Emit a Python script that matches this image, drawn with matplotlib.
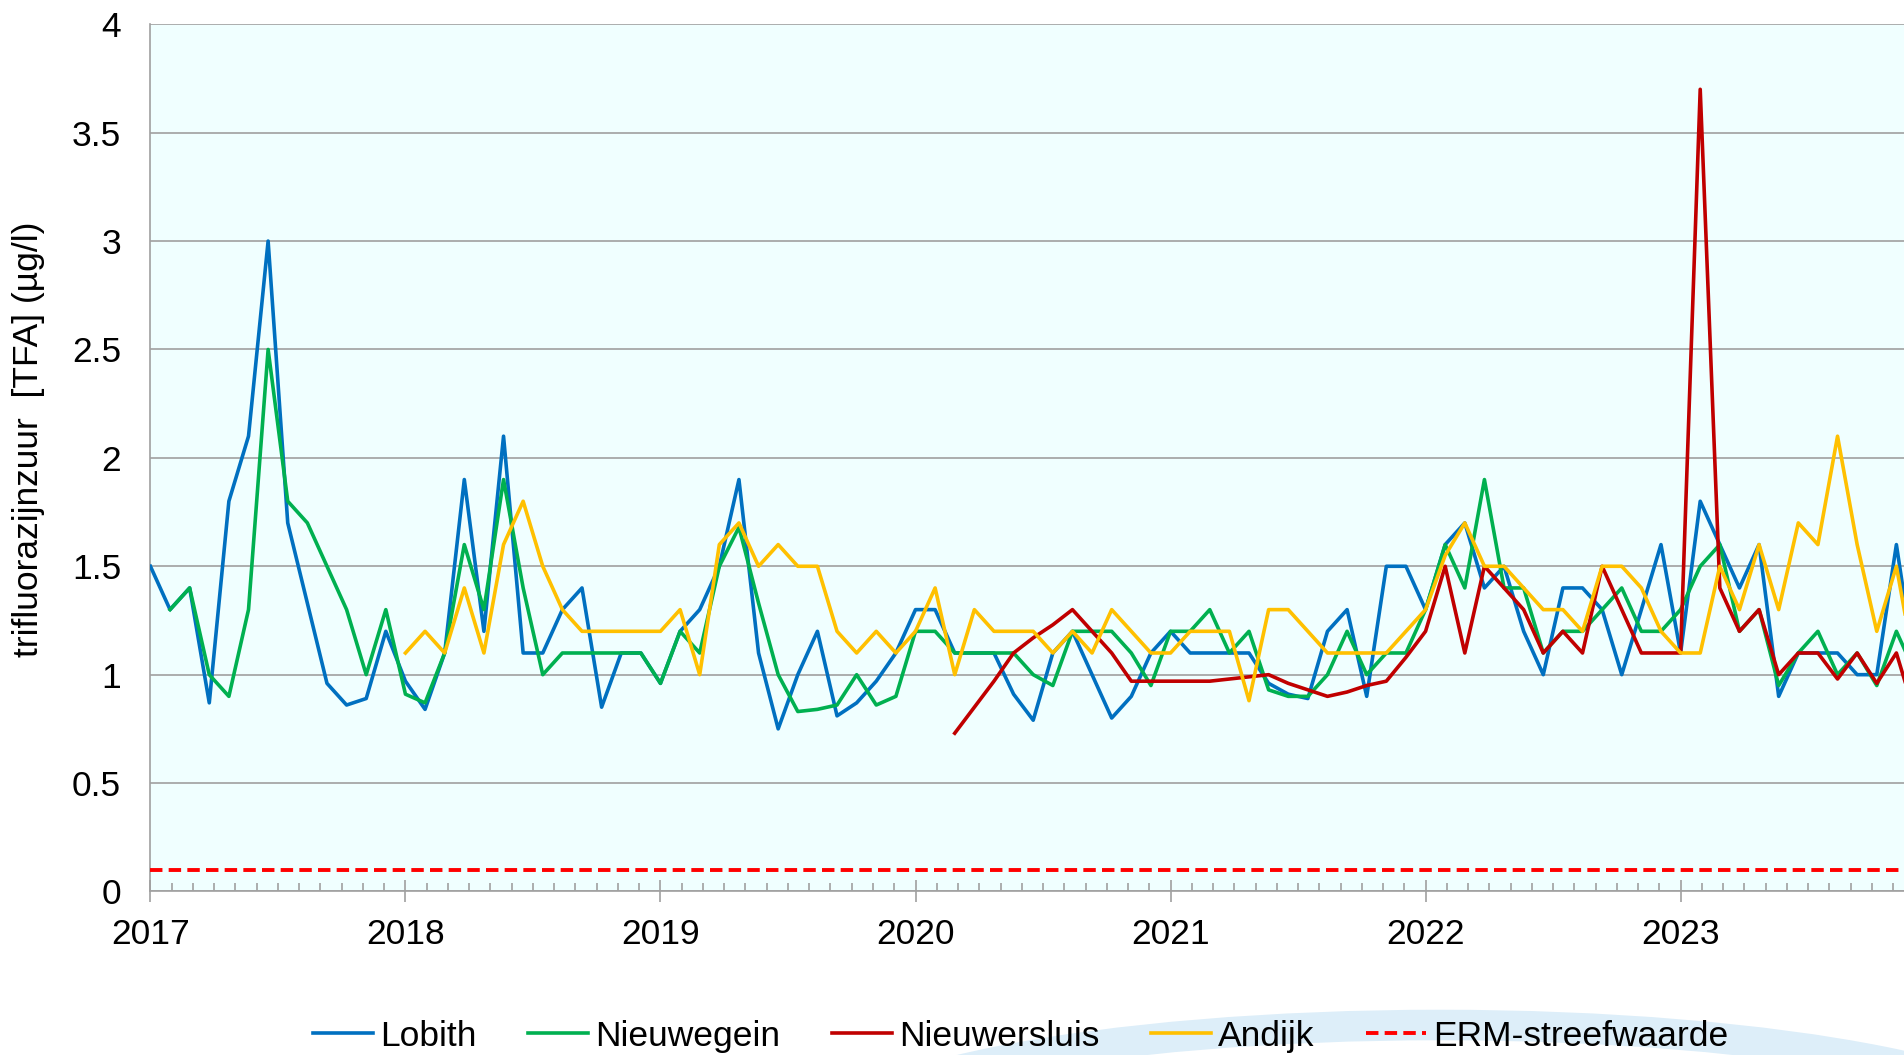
import numpy as np
import matplotlib
matplotlib.use("Agg")
import matplotlib.pyplot as plt
from matplotlib.ticker import MultipleLocator, FuncFormatter
from matplotlib.patches import Arc

nan = np.nan

# 4-weekly samples, 13 per year, starting January 2017
start_year = 2017
per_year = 13

lobith = [1.5, 1.3, 1.4, 0.87, 1.8, 2.1, 3.0, 1.7, 1.33, 0.96, 0.86, 0.89, 1.2,
          0.97, 0.84, 1.1, 1.9, 1.2, 2.1, 1.1, 1.1, 1.3, 1.4, 0.85, 1.1, 1.1, 0.96,
          1.2, 1.3, 1.5, 1.9, 1.1, 0.75, 1.0, 1.2, 0.81, 0.87, 0.97, 1.1, 1.3, 1.3,
          1.1, 1.1, 1.1, 0.91, 0.79, 1.1, 1.2, 1.0, 0.8, 0.9, 1.1, 1.2, 1.1, 1.1,
          1.1, 1.1, 0.96, 0.91, 0.89, 1.2, 1.3, 0.9, 1.5, 1.5, 1.3, 1.6, 1.7, 1.4,
          1.5, 1.2, 1.0, 1.4, 1.4, 1.3, 1.0, 1.3, 1.6, 1.1, 1.8, 1.6, 1.4, 1.6,
          0.9, 1.1, 1.1, 1.1, 1.0, 1.0, 1.6, 1.0]

nieuwegein = [nan, 1.3, 1.4, 1.0, 0.9, 1.3, 2.5, 1.8, 1.7, 1.5, 1.3, 1.0, 1.3,
              0.91, 0.87, 1.1, 1.6, 1.3, 1.9, 1.4, 1.0, 1.1, 1.1, 1.1, 1.1, 1.1, 0.96,
              1.2, 1.1, 1.5, 1.68, 1.33, 1.0, 0.83, 0.84, 0.86, 1.0, 0.86, 0.9, 1.2, 1.2,
              1.1, 1.1, 1.1, 1.1, 1.0, 0.95, 1.2, 1.2, 1.2, 1.1, 0.95, 1.2, 1.2, 1.3,
              1.1, 1.2, 0.93, 0.9, 0.9, 1.0, 1.2, 1.0, 1.1, 1.1, 1.3, 1.6, 1.4, 1.9,
              1.4, 1.4, 1.1, 1.2, 1.2, 1.3, 1.4, 1.2, 1.2, 1.3, 1.5, 1.6, 1.2, 1.3,
              0.95, 1.1, 1.2, 1.0, 1.1, 0.95, 1.2, 1.0]

nieuwersluis = [nan] * 41 + [
    0.73, 0.85, 0.97, 1.1, 1.17, 1.23, 1.3, 1.2, 1.1, 0.97, 0.97, 0.97, 0.97,
    0.97, 0.98, 0.99, 1.0, 0.96, 0.93, 0.9, 0.92, 0.95, 0.97, 1.08, 1.2, 1.5,
    1.1, 1.5, 1.4, 1.3, 1.1, 1.2, 1.1, 1.5, 1.3, 1.1, 1.1, 1.1, 3.7, 1.4, 1.2,
    1.3, 1.0, 1.1, 1.1, 0.98, 1.1, 0.96, 1.1, 0.8]

andijk = [nan] * 13 + [
    1.1, 1.2, 1.1, 1.4, 1.1, 1.6, 1.8, 1.5, 1.3, 1.2, 1.2, 1.2, 1.2, 1.2,
    1.3, 1.0, 1.6, 1.7, 1.5, 1.6, 1.5, 1.5, 1.2, 1.1, 1.2, 1.1, 1.2, 1.4,
    1.0, 1.3, 1.2, 1.2, 1.2, 1.1, 1.2, 1.1, 1.3, 1.2, 1.1, 1.1, 1.2, 1.2,
    1.2, 0.88, 1.3, 1.3, 1.2, 1.1, 1.1, 1.1, 1.1, 1.2, 1.3, 1.55, 1.7, 1.5,
    1.5, 1.4, 1.3, 1.3, 1.2, 1.5, 1.5, 1.4, 1.2, 1.1, 1.1, 1.5, 1.3, 1.6,
    1.3, 1.7, 1.6, 2.1, 1.6, 1.2, 1.5, 1.0]

erm_target = 0.1

series = [
    ("Lobith", lobith, "#0070C0"),
    ("Nieuwegein", nieuwegein, "#00B050"),
    ("Nieuwersluis", nieuwersluis, "#C00000"),
    ("Andijk", andijk, "#FFC000"),
]

fs = 25.5
plt.rcParams["font.family"] = ["Liberation Sans", "DejaVu Sans"]
plt.rcParams["font.size"] = fs

fig = plt.figure(figsize=(19.04, 10.55), dpi=100)
ax = fig.add_axes([0.079, 0.155, 0.921, 0.822])
ax.set_facecolor("#F0FFFF")

grid_col = "#A0A0A0"
for name, vals, col in series:
    y = np.array(vals, dtype=float)
    x = start_year + np.arange(len(y)) / per_year
    ax.plot(x, y, color=col, lw=2.6, label=name, zorder=3)

ax.axhline(erm_target, color="#FF0000", lw=2.8, ls=(0, (3.2, 1.6)),
           label="ERM-streefwaarde", zorder=3)

ax.set_ylim(0, 4)
ax.set_xlim(2017, 2023.876)
ax.yaxis.set_major_locator(MultipleLocator(0.5))
ax.yaxis.set_major_formatter(FuncFormatter(lambda v, p: "%g" % v))
ax.xaxis.set_major_locator(MultipleLocator(1))
ax.xaxis.set_minor_locator(MultipleLocator(1 / 12))
ax.xaxis.set_major_formatter(FuncFormatter(lambda v, p: "%d" % round(v)))
ax.grid(axis="y", color=grid_col, lw=1.2)
ax.set_axisbelow(True)

for s in ["top", "right"]:
    ax.spines[s].set_visible(False)
for s in ["left", "bottom"]:
    ax.spines[s].set_color(grid_col)
    ax.spines[s].set_linewidth(1.2)

ax.tick_params(axis="y", length=0, pad=21, labelsize=fs)
ax.tick_params(axis="x", which="major", direction="inout", length=16,
               color=grid_col, width=1.2, pad=11, labelsize=fs)
ax.tick_params(axis="x", which="minor", direction="in", length=6,
               color=grid_col, width=1.2)

ax.set_ylabel("trifluorazijnzuur  [TFA] (µg/l)", fontsize=fs)
ax.yaxis.set_label_coords(-0.06, 0.522)

# faint logo arc behind the legend
arc = Arc((1440 / 1904, 1 - 1150 / 1055), 1250 / 1904, 250 / 1055,
          theta1=0, theta2=180, transform=fig.transFigure, color="#DDEEF9",
          lw=22, zorder=0)
fig.patches.append(arc)

handles, labels = ax.get_legend_handles_labels()
fig.legend(handles, labels, loc="center", bbox_to_anchor=(0.536, 0.018),
           ncol=5, frameon=False, fontsize=fs, handlelength=1.7,
           handletextpad=0.2, columnspacing=1.45)

fig.savefig("out.png", dpi=100)
